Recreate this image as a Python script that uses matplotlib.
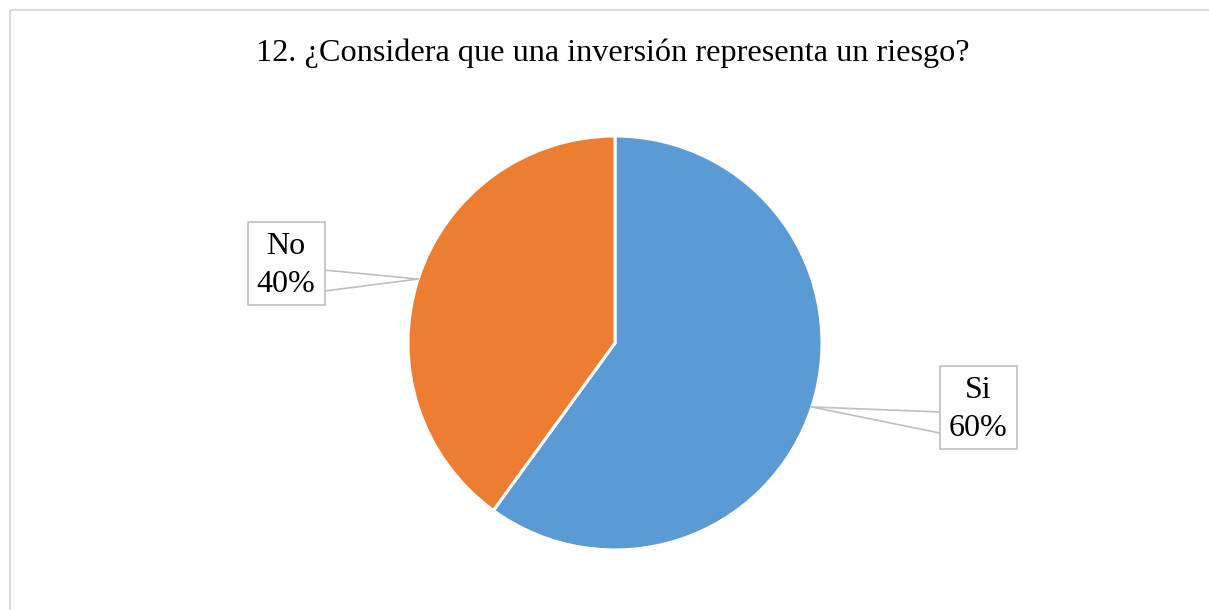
import matplotlib.pyplot as plt
import numpy as np
from matplotlib.patches import Rectangle

# data
labels = ["Si", "No"]
values = [60, 40]
colors = ["#5B9BD5", "#ED7D31"]
title = "12. ¿Considera que una inversión representa un riesgo?"

W, H = 1209, 610
CENTER = (615, H - 343)
RADIUS = 207
# label box centers (pixels, y from bottom), box size
BOX_POS = {"Si": (978, H - 407), "No": (286, H - 263)}
BOX_W, BOX_H = 77, 83
FONT = "Liberation Serif"

fig = plt.figure(figsize=(W / 100, H / 100), dpi=100)
ax = fig.add_axes([0, 0, 1, 1])

# outer chart border (only top and left visible in the crop)
ax.plot([10, W], [H - 10, H - 10], color="#D9D9D9", lw=1.5, solid_capstyle="butt")
ax.plot([10, 10], [0, H - 10], color="#D9D9D9", lw=1.5, solid_capstyle="butt")

wedges, _ = ax.pie(values, colors=colors, startangle=90, counterclock=False,
                   center=CENTER, radius=RADIUS, frame=True,
                   wedgeprops=dict(edgecolor="white", linewidth=2.2))
ax.set_xlim(0, W)
ax.set_ylim(0, H)
ax.set_aspect("equal")
ax.axis("off")

ax.text(613, H - 53, title, ha="center", va="center",
        fontsize=23.2, family=FONT, color="black")

for w, lab, val in zip(wedges, labels, values):
    mid = np.deg2rad((w.theta1 + w.theta2) / 2)
    tip = (CENTER[0] + RADIUS * np.cos(mid), CENTER[1] + RADIUS * np.sin(mid))
    bx, by = BOX_POS[lab]
    side = bx - BOX_W / 2 if bx > tip[0] else bx + BOX_W / 2
    yb = tip[1] - 5 if bx > tip[0] else tip[1] + 9
    ax.plot([tip[0], side], [tip[1], yb], color="#BFBFBF", lw=1.2, zorder=3)
    ax.plot([tip[0], side], [tip[1], yb - 21], color="#BFBFBF", lw=1.2, zorder=3)
    ax.add_patch(Rectangle((bx - BOX_W / 2, by - BOX_H / 2), BOX_W, BOX_H,
                           facecolor="white", edgecolor="#BFBFBF", lw=1.2, zorder=4))
    ax.text(bx, by + 17, lab, ha="center", va="center", fontsize=23,
            family=FONT, zorder=5)
    ax.text(bx, by - 21, f"{val}%", ha="center", va="center", fontsize=23,
            family=FONT, zorder=5)

fig.savefig("out.png", dpi=100)
